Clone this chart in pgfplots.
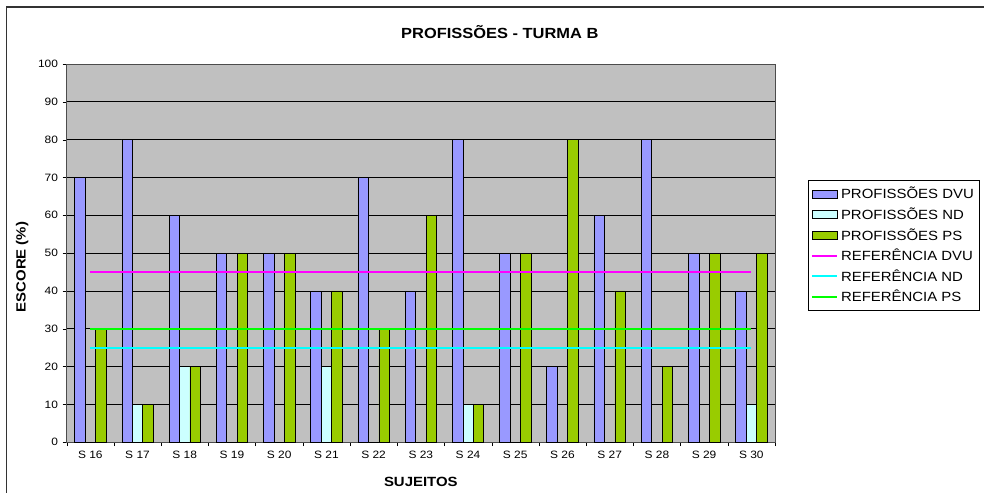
\documentclass[border=0pt]{standalone}
\usepackage{pgfplots}
\pgfplotsset{compat=1.18}
\usepackage{fontspec}
\setmainfont[FakeStretch=1.12]{Liberation Sans}

\definecolor{dvu}{HTML}{9999FF}
\definecolor{nd}{HTML}{CCFFFF}
\definecolor{ps}{HTML}{99CC00}
\definecolor{plotbg}{HTML}{C0C0C0}
\definecolor{refdvu}{HTML}{FF00FF}
\definecolor{refnd}{HTML}{00FFFF}
\definecolor{refps}{HTML}{00FF00}

\pgfplotsset{
    barleg/.style={legend image code/.code={\draw[##1] (0pt,-3pt) rectangle (19pt,3pt);}},
    lineleg/.style={legend image code/.code={\draw[##1] (0pt,0pt) -- (19pt,0pt);}},
}

% x: 0 = S 16 ... 14 = S 30
\pgfplotstableread{
x dvu nd ps
0  70 0  30
1  80 10 10
2  60 20 20
3  50 0  50
4  50 0  50
5  40 20 40
6  70 0  30
7  40 0  60
8  80 10 10
9  50 0  50
10 20 0  80
11 60 0  40
12 80 0  20
13 50 0  50
14 40 10 50
}\scores

\begin{document}
\begin{tikzpicture}
\begin{axis}[
    name=ax,
    scale only axis,
    width=531pt, height=283.5pt,
    xmin=-0.5, xmax=14.5,
    ymin=0, ymax=100,
    axis background/.style={fill=plotbg},
    axis line style={black!70},
    ytick={0,10,...,100},
    ymajorgrids,
    major grid style={black, line width=0.5pt},
    xtick={-0.5,0.5,...,14.5},
    xticklabels={},
    extra x ticks={0,...,14},
    extra x tick labels={S 16,S 17,S 18,S 19,S 20,S 21,S 22,S 23,S 24,S 25,S 26,S 27,S 28,S 29,S 30},
    extra x tick style={major tick length=0pt, grid=none},
    tick align=outside,
    major tick length=3pt,
    tick style={black},
    xtick pos=bottom, ytick pos=left,
    tick label style={font=\fontsize{8}{9}\selectfont},
    /pgf/number format/assume math mode=true,
    xticklabel style={yshift=-3pt},
    xlabel={\textbf{SUJEITOS}},
    ylabel={\textbf{ESCORE (\%)}},
    xlabel style={at={(axis description cs:0.5,-0.106)}, anchor=center, font=\fontsize{10}{11}\selectfont},
    ylabel style={at={(axis description cs:-0.063,0.463)}, anchor=center, font=\fontsize{10}{11}\selectfont},
    clip=false,
    legend style={at={(axis description cs:1.0466,0.693)}, anchor=north west,
        draw=black, fill=white, font=\fontsize{10}{11}\selectfont,
        row sep=1.2pt, inner xsep=2pt, inner ysep=3pt, cells={anchor=west}},
    legend cell align=left,
]
\addplot[ybar, bar width=0.222, bar shift=-0.222, fill=dvu, draw=black, barleg]
    table[x=x, y=dvu] {\scores};
\addplot[ybar, bar width=0.222, bar shift=0, fill=nd, draw=black, barleg]
    table[x=x, y=nd] {\scores};
\addplot[ybar, bar width=0.222, bar shift=0.222, fill=ps, draw=black, barleg]
    table[x=x, y=ps] {\scores};
\addplot[sharp plot, no markers, refdvu, line width=1.6pt, lineleg]
    coordinates {(0,45) (14,45)};
\addplot[sharp plot, no markers, refnd, line width=1.6pt, lineleg]
    coordinates {(0,25) (14,25)};
\addplot[sharp plot, no markers, refps, line width=1.6pt, lineleg]
    coordinates {(0,30) (14,30)};
\legend{PROFISSÕES DVU, PROFISSÕES ND, PROFISSÕES PS, REFERÊNCIA DVU, REFERÊNCIA ND, REFERÊNCIA PS}
\end{axis}
\node[font=\bfseries\fontsize{11}{12}\selectfont] at ([shift={(59.25pt,24pt)}]ax.north) {PROFISSÕES - TURMA B};
\draw[black!80, line width=1.2pt] ([shift={(-45pt,-60pt)}]ax.south west) -- ([shift={(-45pt,42.75pt)}]ax.north west) -- ([shift={(170pt,42.75pt)}]ax.north east);
\pgfresetboundingbox
\path ([shift={(-50pt,-37.5pt)}]ax.south west) rectangle ([shift={(156.75pt,48pt)}]ax.north east);
\end{tikzpicture}
\end{document}
